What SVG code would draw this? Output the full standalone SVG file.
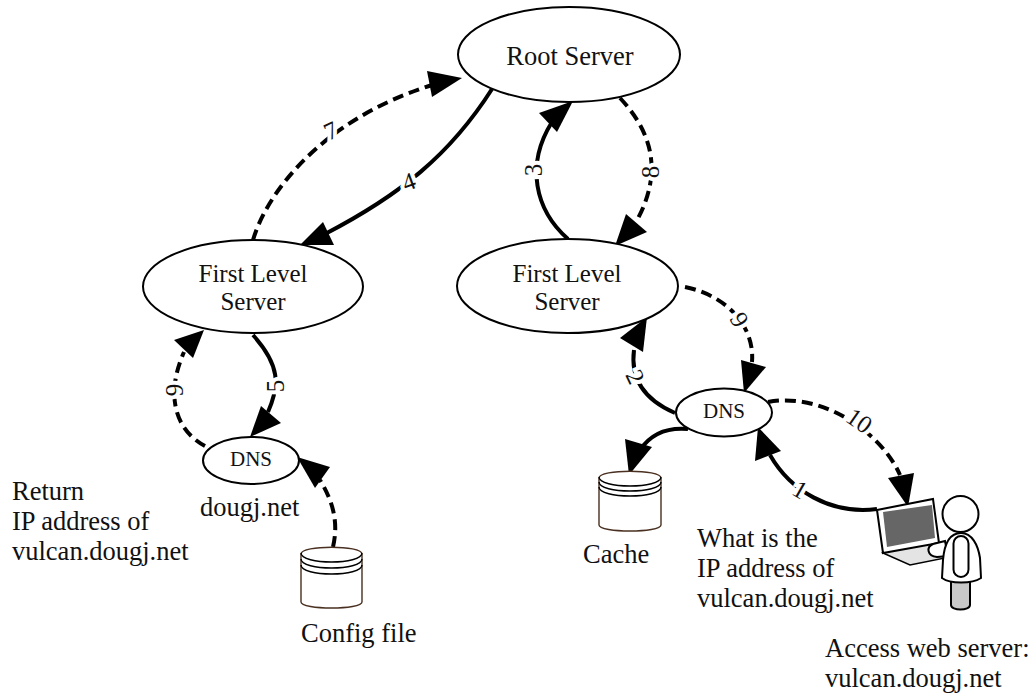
<svg xmlns="http://www.w3.org/2000/svg" width="1031" height="694" viewBox="0 0 1031 694">
<defs>
<style>
text{font-family:"Liberation Serif","Times New Roman",serif;fill:#111}
.n{fill:#fff;stroke:#000;stroke-width:2}
.t{font-size:25px;text-anchor:middle}
.d{font-size:21px;text-anchor:middle}
.l{font-size:26.5px}
.s{fill:none;stroke:#000;stroke-width:4}
.h{fill:none;stroke:#000;stroke-width:4;stroke-dasharray:11 6}
.a{fill:#000}
.e{font-size:25px;text-anchor:middle;paint-order:stroke;stroke:#fff;stroke-width:8px}
.c{fill:#fff;stroke:#4a3020;stroke-width:1.4}
.r{fill:none;stroke:#000;stroke-width:1.4}
</style>
</defs>
<g id="connectors">
<path class="h" d="M253 240C266 195 320 120 432 85"/>
<polygon class="a" points="462,78 427,71 432,97"/>
<path class="s" d="M492 89C450 155 400 195 325 234"/>
<polygon class="a" points="300,245 323,222 334,245"/>
<path class="s" d="M568 239C535 210 525 165 552 122"/>
<polygon class="a" points="573,101 539,113 557,132"/>
<path class="h" d="M620 98C650 130 665 170 636 222"/>
<polygon class="a" points="615,246 626,214 647,232"/>
<path class="h" d="M685 287C725 295 755 325 752 362"/>
<polygon class="a" points="744,393 741,360 766,367"/>
<path class="s" d="M675 413C645 400 630 380 634 350"/>
<polygon class="a" points="647,317 620,338 643,352"/>
<path class="s" d="M688 429C665 427 650 435 640 450"/>
<polygon class="a" points="629,475 625,439 652,447"/>
<path class="h" d="M768 402C820 392 880 430 900 475"/>
<polygon class="a" points="908,507 888,478 914,473"/>
<path class="s" d="M877 509C830 515 790 490 770 455"/>
<polygon class="a" points="758,427 755,461 781,451"/>
<path class="h" d="M205 446C175 430 165 395 184 352"/>
<polygon class="a" points="204,330 174,340 193,358"/>
<path class="s" d="M253 335C280 365 280 385 268 412"/>
<polygon class="a" points="250,437 261,406 281,423"/>
<path class="h" d="M333 547C338 525 335 505 320 480"/>
<polygon class="a" points="297,457 330,467 315,488"/>
</g>
<g id="edge-labels">
<text class="e" transform="translate(331 131) rotate(-25)" y="8">7</text>
<text class="e" transform="translate(409 182) rotate(-20)" y="8">4</text>
<text class="e" transform="translate(534 170) rotate(-90)" y="8">3</text>
<text class="e" transform="translate(651 172) rotate(-90)" y="8">8</text>
<text class="e" transform="translate(739 320) rotate(60)" y="8">9</text>
<text class="e" transform="translate(635 377) rotate(65)" y="8">2</text>
<text class="e" transform="translate(175 390) rotate(-90)" y="8">9</text>
<text class="e" transform="translate(276 386) rotate(-90)" y="8">5</text>
<text class="e" transform="translate(859 421) rotate(35)" y="8">10</text>
<text class="e" transform="translate(800 490) rotate(30)" y="8">1</text>
</g>
<g id="root-server"><ellipse class="n" cx="569" cy="54.5" rx="111" ry="47.5"/><text class="t" style="font-size:26.5px" x="570" y="65">Root Server</text></g>
<g id="first-level-left"><ellipse class="n" cx="253" cy="286.5" rx="110" ry="46.5"/><text class="t" x="253" y="282">First Level</text><text class="t" x="253" y="310">Server</text></g>
<g id="first-level-right"><ellipse class="n" cx="567.5" cy="286" rx="110.5" ry="47"/><text class="t" x="567" y="282">First Level</text><text class="t" x="567" y="310">Server</text></g>
<g id="dns-right"><ellipse class="n" cx="724" cy="412.5" rx="48" ry="24"/><text class="d" x="724" y="418">DNS</text></g>
<g id="dns-left"><ellipse class="n" cx="251" cy="460.5" rx="48" ry="23.5"/><text class="d" x="251" y="466">DNS</text></g>
<g id="cache">
<path class="c" d="M599 478C599 469 661 469 661 478V525C661 533 599 533 599 525Z"/>
<path class="r" d="M599 477C599 489 661 489 661 477M599 482C599 494 661 494 661 482M599 487C599 499 661 499 661 487"/>
</g>
<g id="config-file">
<path class="c" d="M301 554C301 545 362 545 362 554V602C362 610 301 610 301 602Z"/>
<path class="r" d="M301 553C301 565 362 565 362 553M301 559C301 571 362 571 362 559M301 565C301 577 362 577 362 565"/>
</g>
<g id="user">
<path d="M951 580V605C951 611 970 611 970 605V580Z" fill="#c8c8c8" stroke="#000" stroke-width="2"/>
<path d="M883 553L910 565L945 558L942 545L925 540Z" fill="#e4e4e4" stroke="#000" stroke-width="1.5"/>
<path d="M877 510L933 499L939 543L883 553Z" fill="#fff" stroke="#000" stroke-width="2"/>
<path d="M883 512L932 505L935 538L887 547Z" fill="#666"/>
<path d="M945 541L933 544C926 547 927 556 937 557L948 556Z" fill="#fff" stroke="#000" stroke-width="2"/>
<circle cx="960.500" cy="514" r="18" fill="#fff" stroke="#000" stroke-width="2"/>
<path d="M961 533C948 533 944 548 943 560L942 578C950 584 972 584 981 578L980 558C978 545 972 533 961 533Z" fill="#fff" stroke="#000" stroke-width="2"/>
<rect x="953.500" y="536" width="15" height="41" rx="7.500" fill="#fff" stroke="#000" stroke-width="2"/>
</g>
<g id="texts">
<text class="l" x="12" y="500">Return</text>
<text class="l" x="12" y="530">IP address of</text>
<text class="l" x="12" y="560">vulcan.dougj.net</text>
<text class="l" x="200" y="516">dougj.net</text>
<text class="l" x="301" y="642">Config file</text>
<text class="l" x="583" y="563">Cache</text>
<text class="l" x="697" y="547">What is the</text>
<text class="l" x="697" y="577">IP address of</text>
<text class="l" x="697" y="607">vulcan.dougj.net</text>
<text class="l" x="825" y="657">Access web server:</text>
<text class="l" x="825" y="687">vulcan.dougj.net</text>
</g>
</svg>
